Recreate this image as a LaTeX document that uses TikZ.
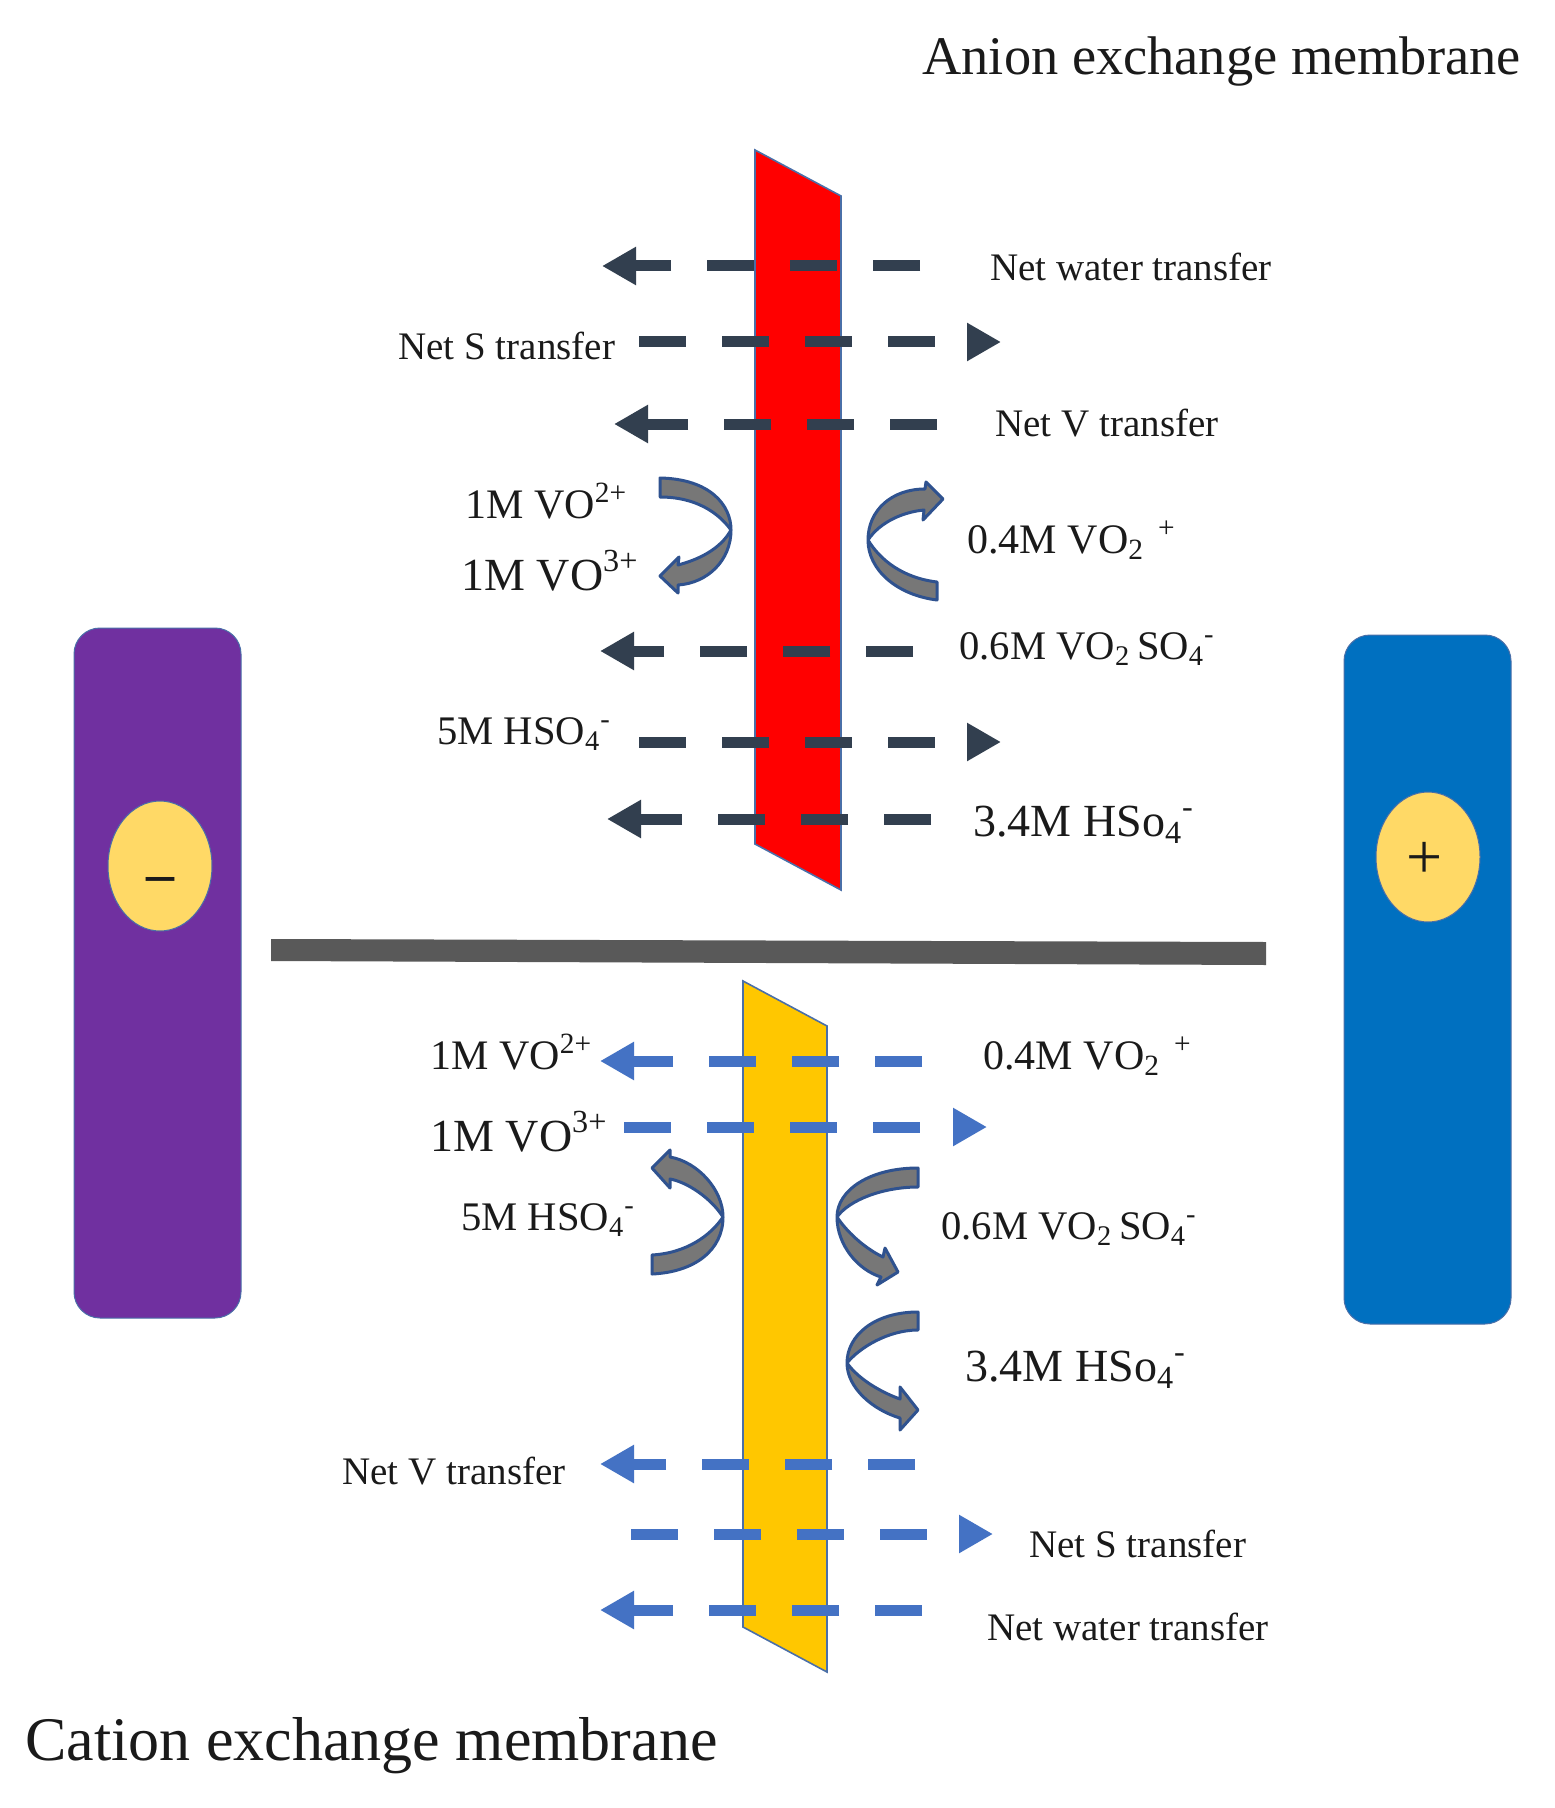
\documentclass[tikz,border=0pt]{standalone}
\usepackage{fontspec}
\setmainfont{Liberation Serif}
\usetikzlibrary{arrows.meta}
\definecolor{darkarrow}{HTML}{323F4F}
\definecolor{bluearrow}{HTML}{4472C4}
\definecolor{edgeblue}{HTML}{4A6FA8}
\definecolor{bendfill}{HTML}{777777}
\definecolor{bendedge}{HTML}{2F528F}
\definecolor{txt}{HTML}{1A1A1A}
\definecolor{termfill}{HTML}{FFD966}
\definecolor{purpleplate}{HTML}{7030A0}
\definecolor{blueplate}{HTML}{0070C0}
\definecolor{divider}{HTML}{595959}
\definecolor{yellowmem}{HTML}{FFC700}
\newcommand{\up}[1]{\textsuperscript{#1}}
\newcommand{\dn}[1]{\textsubscript{#1}}
\tikzset{
  flowbase/.style={line width=5.5pt,dash pattern=on 23.5pt off 18pt,
     -{Triangle[length=17pt,width=18pt]}},
  darkflow/.style={flowbase,draw=darkarrow},
  blueflow/.style={flowbase,draw=bluearrow},
  membrane/.style={draw=edgeblue,line width=0.8pt},
  electrode/.style={rounded corners=13pt,draw=edgeblue,line width=0.5pt},
  terminal/.style={fill=termfill,draw=edgeblue,line width=0.5pt},
  bendarrow/.style={fill=bendfill,draw=bendedge,line width=1.5pt,line join=round},
  lab/.style={anchor=base west,inner sep=0pt,text=txt},
  smalllab/.style={lab,font=\fontsize{19.5pt}{21pt}\selectfont},
  vallab/.style={lab,font=\fontsize{20.3pt}{22pt}\selectfont},
  midlab/.style={lab,font=\fontsize{21pt}{23pt}\selectfont},
  biglab/.style={lab,font=\fontsize{23pt}{25pt}\selectfont},
  anionlab/.style={lab,font=\fontsize{27.2pt}{30pt}\selectfont},
  cationlab/.style={lab,font=\fontsize{31pt}{33pt}\selectfont},
  termlab/.style={inner sep=0pt,text=txt},
}
\begin{document}
\begin{tikzpicture}[x=0.5pt,y=-0.5pt]
\useasboundingbox (0,0) rectangle (1554,1808);
\fill[white] (0,0) rectangle (1554,1808);
% electrodes
\filldraw[electrode,fill=purpleplate] (74,628) rectangle (241,1318);
\filldraw[electrode,fill=blueplate] (1344,635) rectangle (1511,1324);
\filldraw[terminal] (160,866) ellipse [x radius=52,y radius=65];
\filldraw[terminal] (1428,857) ellipse [x radius=52,y radius=65];
\node[termlab,font=\fontsize{28pt}{30pt}\bfseries\selectfont] (minus) at (160,885) {--};
\node[termlab,font=\fontsize{32pt}{34pt}\selectfont] (plus) at (1425,860) {+};
% divider
\fill[divider] (271,939) -- (1266,942) -- (1266,965) -- (271,961) -- cycle;
% membranes
\filldraw[membrane,fill=red] (755,150) -- (841,196) -- (841,890) -- (755,844) -- cycle;
\filldraw[membrane,fill=yellowmem] (743,981) -- (827,1026) -- (827,1672) -- (743,1627) -- cycle;
% flow end points
\coordinate (t1a) at (920,266);  \coordinate (t1b) at (602,266);
\coordinate (t2a) at (639,342);  \coordinate (t2b) at (1001,342);
\coordinate (t3a) at (937,424);  \coordinate (t3b) at (614,424);
\coordinate (t4a) at (913,651);  \coordinate (t4b) at (600,651);
\coordinate (t5a) at (639,742);  \coordinate (t5b) at (1001,742);
\coordinate (t6a) at (931,819);  \coordinate (t6b) at (607,819);
\coordinate (b1a) at (922,1061); \coordinate (b1b) at (600,1061);
\coordinate (b2a) at (624,1127); \coordinate (b2b) at (987,1127);
\coordinate (b3a) at (915,1464); \coordinate (b3b) at (600,1464);
\coordinate (b4a) at (631,1534); \coordinate (b4b) at (993,1534);
\coordinate (b5a) at (922,1610); \coordinate (b5b) at (600,1610);
\foreach \a/\b in {t1a/t1b,t2a/t2b,t3a/t3b,t4a/t4b,t5a/t5b,t6a/t6b}
  \draw[darkflow] (\a) -- (\b);
\foreach \a/\b in {b1a/b1b,b2a/b2b,b3a/b3b,b4a/b4b,b5a/b5b}
  \draw[blueflow] (\a) -- (\b);
% curved arrows
\filldraw[bendarrow] (660,478) .. controls (710,479) and (731,505) .. (731,530) .. controls (731,560) and (708,583) .. (678,585) -- (678,593) -- (660,576) -- (679,557) -- (678,565) .. controls (697,560) and (720,550) .. (731,530) .. controls (718,512) and (695,497) .. (660,497) -- cycle;
\filldraw[bendarrow] (937,600) .. controls (897,595) and (868,570) .. (868,540) .. controls (868,510) and (892,489) .. (925,489) -- (926,482) -- (943,499) -- (923,520) -- (924,510) .. controls (903,512) and (880,522) .. (868,540) .. controls (880,560) and (903,578) .. (937,582) -- cycle;
\filldraw[bendarrow] (652,1274) .. controls (695,1272) and (723,1250) .. (723,1217) .. controls (723,1190) and (698,1162) .. (670,1157) -- (670,1150) -- (652,1168) -- (670,1188) -- (670,1179) .. controls (687,1182) and (711,1198) .. (723,1217) .. controls (711,1235) and (687,1253) .. (652,1255) -- cycle;
\filldraw[bendarrow] (918,1168) .. controls (870,1168) and (837,1190) .. (837,1217) .. controls (837,1245) and (858,1270) .. (881,1277) -- (877,1285) -- (898,1272) -- (885,1248) -- (883,1257) .. controls (868,1250) and (849,1235) .. (837,1217) .. controls (849,1200) and (883,1187) .. (918,1187) -- cycle;
\filldraw[bendarrow] (918,1312) .. controls (875,1312) and (847,1335) .. (847,1363) .. controls (847,1388) and (873,1410) .. (900,1418) -- (900,1430) -- (918,1410) -- (900,1387) -- (900,1399) .. controls (883,1393) and (859,1380) .. (847,1363) .. controls (859,1348) and (888,1330) .. (918,1330) -- cycle;
% labels
\node[anionlab] (anion) at (922,75) {Anion exchange membrane};
\node[cationlab] (cation) at (25,1760) {Cation exchange membrane};
\node[smalllab] (l1) at (990,281) {Net water transfer};
\node[smalllab] (l2) at (398,359) {Net S transfer};
\node[smalllab] (l3) at (995,436) {Net V transfer};
\node[midlab] (l4) at (465,518) {1M VO\up{2+}};
\node[biglab] (l5) at (461,590) {1M VO\up{3+}};
\node[midlab] (l6) at (967,553) {0.4M VO\dn{2}\,\,\up{+}};
\node[vallab] (l7) at (959,659) {0.6M VO\dn{2}\,SO\dn{4}\up{-}};
\node[vallab] (l8) at (437,744) {5M HSO\dn{4}\up{-}};
\node[biglab] (l9) at (973,836) {3.4M HSo\dn{4}\up{-}};
\node[midlab] (l10) at (430,1069) {1M VO\up{2+}};
\node[midlab] (l11) at (983,1069) {0.4M VO\dn{2}\,\,\up{+}};
\node[biglab] (l12) at (430,1151) {1M VO\up{3+}};
\node[vallab] (l13) at (461,1230) {5M HSO\dn{4}\up{-}};
\node[vallab] (l14) at (941,1239) {0.6M VO\dn{2}\,SO\dn{4}\up{-}};
\node[biglab] (l15) at (965,1381) {3.4M HSo\dn{4}\up{-}};
\node[smalllab] (l16) at (342,1484) {Net V transfer};
\node[smalllab] (l17) at (1029,1557) {Net S transfer};
\node[smalllab] (l18) at (987,1640) {Net water transfer};
\end{tikzpicture}
\end{document}
